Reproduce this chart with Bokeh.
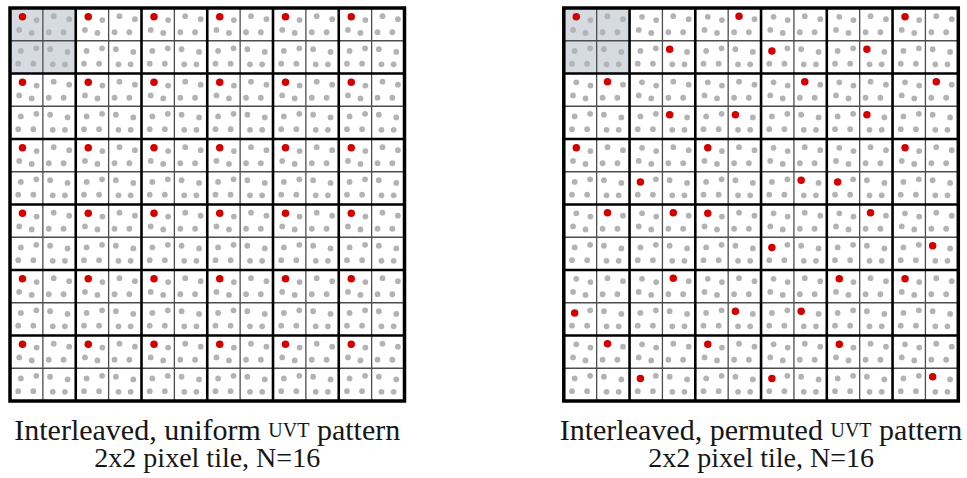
import numpy as np
from bokeh.plotting import figure
from bokeh.models import Range1d
from bokeh.core.properties import value
from bokeh.embed import file_html
from bokeh.resources import INLINE

# ---------------------------------------------------------------- data
PIXELS = 12          # pixels per panel side
TILE = 2             # pixels per tile side
TILES = PIXELS // TILE

# Four sample offsets (fraction of a pixel) for each pixel position of the
# 2x2 tile, keyed by (px, py): 4 pixels x 4 samples = N = 16 per tile.
sample_x = {
    (0, 0): [0.38, 0.81, 0.28, 0.66],
    (1, 0): [0.33, 0.80, 0.18, 0.63],
    (0, 1): [0.33, 0.80, 0.25, 0.71],
    (1, 1): [0.22, 0.75, 0.30, 0.67],
}
sample_y = {
    (0, 0): [0.27, 0.37, 0.67, 0.76],
    (1, 0): [0.25, 0.34, 0.74, 0.74],
    (0, 1): [0.31, 0.23, 0.70, 0.70],
    (1, 1): [0.26, 0.34, 0.72, 0.72],
}
highlight_sample = 0   # the sample index shown in red

# Pixel (within each tile) that holds the highlighted sample, rows = tile rows.
uniform_px = [[0] * TILES for _ in range(TILES)]
uniform_py = [[0] * TILES for _ in range(TILES)]
permuted_px = [
    [0, 1, 1, 0, 1, 0],
    [1, 1, 1, 1, 1, 1],
    [0, 0, 0, 1, 0, 0],
    [1, 1, 0, 0, 1, 1],
    [0, 1, 1, 1, 0, 0],
    [1, 0, 0, 0, 0, 1],
]
permuted_py = [
    [0, 1, 0, 1, 1, 0],
    [0, 1, 1, 0, 1, 0],
    [0, 1, 0, 1, 1, 0],
    [0, 0, 0, 1, 0, 1],
    [1, 0, 1, 1, 0, 0],
    [0, 1, 0, 1, 0, 1],
]
caption_head = ["Interleaved, uniform", "Interleaved, permuted"]
caption_caps = "UVT"
caption_tail = "pattern"
caption_line2 = "2x2 pixel tile, N=16"

# ---------------------------------------------------------------- layout
SX, SY = 32.875, 32.75          # screen px per grid pixel
LEFT, TOP = 9.5, 7.5            # first panel origin on screen
W, H = 967, 478
panel_x0 = [0.0, (563.3 - LEFT) / SX]

FONT = "Liberation Serif"
SIZE1, SIZE_CAPS, SIZE2 = 30, 20, 28
BASE1 = (429 - TOP) / SY
BASE2 = (456.5 - TOP) / SY

GRAY_DOT = "#b3b3b3"
RED_DOT = "#d40000"
SHADE = "#d5dbe1"
TEXT = "#161616"

# Times / Liberation Serif advance widths (per 1000 em)
ADV = {" ": 250, ",": 250, "=": 564, "I": 333, "N": 722, "U": 722, "V": 722,
       "T": 611, "a": 444, "d": 500, "e": 444, "f": 333, "i": 278, "l": 278,
       "m": 778, "n": 500, "o": 500, "p": 500, "r": 333, "t": 278, "u": 500,
       "v": 500, "x": 500}
for ch in "0123456789":
    ADV[ch] = 500


def text_width(s, size_px):
    return sum(ADV.get(c, 500) for c in s) * size_px / 1000.0


p = figure(width=W, height=H, output_backend="svg", toolbar_location=None,
           x_range=Range1d(-LEFT / SX, (W - LEFT) / SX),
           y_range=Range1d((H - TOP) / SY, -TOP / SY),
           min_border=0, background_fill_color="white",
           border_fill_color="white")
p.axis.visible = False
p.grid.visible = False
p.outline_line_color = None

red_tables = [(uniform_px, uniform_py), (permuted_px, permuted_py)]

for k, x0 in enumerate(panel_x0):
    # shaded first tile
    p.quad(left=[x0], right=[x0 + TILE], top=[0], bottom=[TILE],
           fill_color=SHADE, line_color=None)

    # samples
    rpx, rpy = red_tables[k]
    gx, gy, rx, ry = [], [], [], []
    for ty in range(TILES):
        for tx in range(TILES):
            for py in range(TILE):
                for px in range(TILE):
                    xs = sample_x[(px, py)]
                    ys = sample_y[(px, py)]
                    cx = x0 + tx * TILE + px
                    cy = ty * TILE + py
                    for s in range(4):
                        is_red = (s == highlight_sample and
                                  px == rpx[ty][tx] and py == rpy[ty][tx])
                        if is_red:
                            rx.append(cx + xs[s]); ry.append(cy + ys[s])
                        else:
                            gx.append(cx + xs[s]); gy.append(cy + ys[s])
    p.scatter(gx, gy, size=5.8, fill_color=GRAY_DOT, line_color=None)
    p.scatter(rx, ry, size=7.5, fill_color=RED_DOT, line_color=None)

    # pixel lines
    fine = [i for i in range(1, PIXELS) if i % TILE]
    p.segment(x0=[x0 + i for i in fine], x1=[x0 + i for i in fine],
              y0=[0] * len(fine), y1=[PIXELS] * len(fine),
              line_color="#4d4d4d", line_width=1.3)
    p.segment(x0=[x0] * len(fine), x1=[x0 + PIXELS] * len(fine),
              y0=fine, y1=fine, line_color="#4d4d4d", line_width=1.3)
    # tile lines
    thick = list(range(TILE, PIXELS, TILE))
    p.segment(x0=[x0 + i for i in thick], x1=[x0 + i for i in thick],
              y0=[0] * len(thick), y1=[PIXELS] * len(thick),
              line_color="black", line_width=2.6)
    p.segment(x0=[x0] * len(thick), x1=[x0 + PIXELS] * len(thick),
              y0=thick, y1=thick, line_color="black", line_width=2.6)
    # outer frame
    p.quad(left=[x0], right=[x0 + PIXELS], top=[0], bottom=[PIXELS],
           fill_color=None, line_color="black", line_width=3.5,
           line_join="miter")

    # caption, with the pattern name set in small capitals
    head, tail = caption_head[k], caption_tail
    space = text_width(" ", SIZE1) / SX
    w_head = text_width(head, SIZE1) / SX
    w_caps = text_width(caption_caps, SIZE_CAPS) / SX
    w_tail = text_width(tail, SIZE1) / SX
    total = w_head + space + w_caps + space + w_tail
    cx = x0 + PIXELS / 2
    start = cx - total / 2
    x_caps = start + w_head + space
    x_tail = x_caps + w_caps + space
    p.text(x=[start, x_tail], y=[BASE1, BASE1],
           text=[head, tail], text_font=value(FONT),
           text_font_size=value(f"{SIZE1}px"), text_align="left",
           text_baseline="alphabetic", text_color=TEXT)
    p.text(x=[x_caps], y=[BASE1], text=[caption_caps],
           text_font=value(FONT), text_font_size=value(f"{SIZE_CAPS}px"),
           text_align="left", text_baseline="alphabetic", text_color=TEXT)
    p.text(x=[cx], y=[BASE2], text=[caption_line2], text_font=value(FONT),
           text_font_size=value(f"{SIZE2}px"), text_align="center",
           text_baseline="alphabetic", text_color=TEXT)

open("out.html", "w").write(file_html(p, INLINE))
